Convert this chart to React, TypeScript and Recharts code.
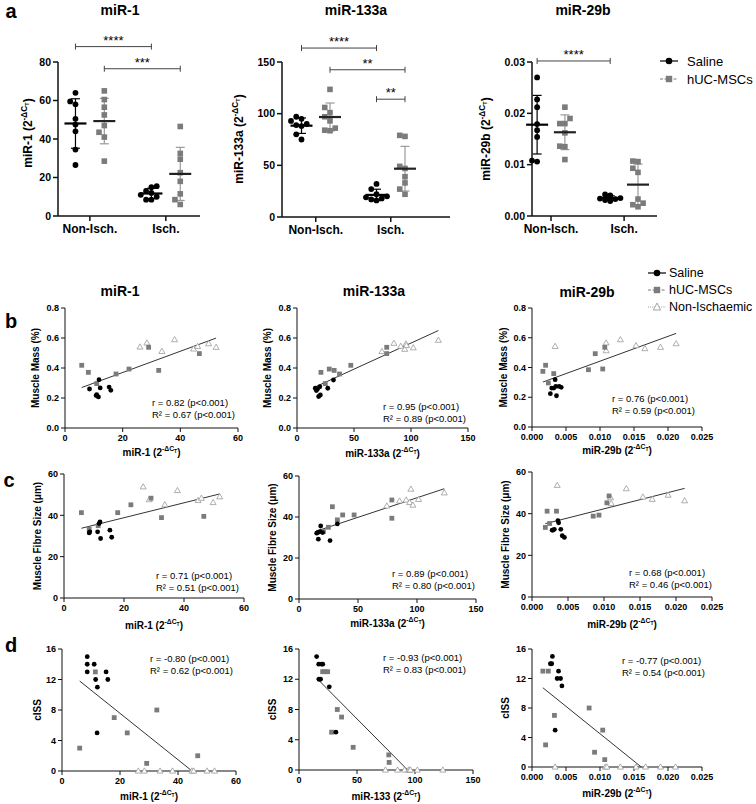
import React from "react";
import { ScatterChart, Scatter, XAxis, YAxis, ErrorBar, ReferenceLine } from "recharts";

const FONT = '"Liberation Sans", Arial, Helvetica, sans-serif';
const GREY = "#7b7b7b";
const TRI = "#9a9a9a";
const OFF = 0.19;

type Pt = [number, number];

// ---- a: expression, Non-Isch. / Isch. (8 per group)
const groupNames = ["Non-Isch.", "Isch."];

const mir1SalineNon = [64, 59.5, 58, 50.5, 47.5, 44, 34.5, 26.5];
const mir1SalineIsch = [15.5, 15, 13, 12, 11, 10, 8.5, 8.5];
const mir1MscNon = [65, 60.5, 56.5, 52.5, 47, 43.5, 41, 28.5];
const mir1MscIsch = [46.5, 32.5, 29.5, 22.5, 18, 11.5, 8.5, 6];

const mir133SalineNon = [97, 95, 93, 90, 89, 88, 80, 75];
const mir133SalineIsch = [32, 27, 22, 20, 19, 18, 17, 16];
const mir133MscNon = [123.5, 106, 101, 97, 93, 86, 84, 83.5];
const mir133MscIsch = [79, 78, 49, 47, 39, 33, 27, 22];

const mir29SalineNon = [0.027, 0.0227, 0.0212, 0.0179, 0.0167, 0.0154, 0.0106, 0.0108];
const mir29SalineIsch = [0.0042, 0.004, 0.0037, 0.0035, 0.0034, 0.0033, 0.0031, 0.0029];
const mir29MscNon = [0.0212, 0.019, 0.018, 0.018, 0.0162, 0.0135, 0.0136, 0.011];
const mir29MscIsch = [0.0106, 0.0107, 0.0085, 0.0093, 0.0033, 0.0018, 0.0025, 0.0022];

// ---- b: muscle mass vs expression [x, y]
const massMir1Saline: Pt[] = [[8.5, 0.26], [11, 0.222], [11.6, 0.207], [11.8, 0.322], [12.2, 0.267], [15.3, 0.273], [15.9, 0.251], [10.8, 0.216]];
const massMir1Msc: Pt[] = [[5.8, 0.418], [8.1, 0.371], [11, 0.296], [17.7, 0.36], [22.2, 0.393], [29, 0.538], [32.5, 0.384], [46.6, 0.496]];
const massMir1Non: Pt[] = [[26, 0.54], [28.4, 0.567], [33.6, 0.511], [38, 0.589], [44.6, 0.527], [46, 0.544], [49.8, 0.562], [52.4, 0.538]];

const massMir133Saline: Pt[] = [[16, 0.265], [17, 0.25], [18, 0.26], [19, 0.21], [20, 0.275], [20.5, 0.22], [27, 0.265], [32, 0.32]];
const massMir133Msc: Pt[] = [[21, 0.371], [24.8, 0.296], [28.3, 0.393], [32.6, 0.384], [37.3, 0.36], [47.2, 0.418], [78.7, 0.496], [78.7, 0.538]];
const massMir133Non: Pt[] = [[74.5, 0.51], [85, 0.565], [91, 0.545], [94.5, 0.525], [95.5, 0.56], [96, 0.55], [102, 0.535], [124, 0.585]];

const massMir29Saline: Pt[] = [[0.0029, 0.262], [0.0027, 0.224], [0.0034, 0.318], [0.0035, 0.273], [0.0036, 0.21], [0.004, 0.273], [0.0043, 0.267], [0.0032, 0.262]];
const massMir29Msc: Pt[] = [[0.0016, 0.374], [0.002, 0.415], [0.0024, 0.296], [0.0032, 0.359], [0.0083, 0.385], [0.0093, 0.493], [0.0104, 0.39], [0.0107, 0.536]];
const massMir29Non: Pt[] = [[0.0034, 0.542], [0.0109, 0.565], [0.0109, 0.513], [0.013, 0.587], [0.0153, 0.547], [0.0166, 0.527], [0.0189, 0.536], [0.0212, 0.56]];

// ---- c: fibre size vs expression
const fibreMir1Saline: Pt[] = [[8.6, 32], [8.4, 31.5], [11.2, 32], [11.7, 36], [12, 36.8], [12.2, 28.8], [15.3, 32.8], [15.9, 29.4]];
const fibreMir1Msc: Pt[] = [[5.8, 41.3], [8.4, 33.3], [11.4, 35], [17.9, 41.3], [22.3, 45.1], [29, 48.3], [32.5, 38.9], [46.6, 39.5]];
const fibreMir1Non: Pt[] = [[26.4, 53.8], [28.4, 47.6], [33.6, 45.1], [37.8, 52], [44.7, 47.2], [45.8, 48.3], [49.7, 46.2], [51.9, 49]];

const fibreMir133Saline: Pt[] = [[15, 32.1], [16.4, 29.2], [17.8, 32.9], [18.4, 35.6], [20, 32.4], [26.3, 28.5], [32.5, 36.6], [16, 32.5]];
const fibreMir133Msc: Pt[] = [[20.7, 32.9], [24.9, 35], [28.3, 45], [32.5, 38.6], [37, 41], [46.7, 41], [78.7, 48.3], [78.7, 39.4]];
const fibreMir133Non: Pt[] = [[74.4, 45.4], [85.2, 47.8], [90.8, 48.3], [93.7, 47.1], [94.8, 53.6], [96.5, 45.8], [101.3, 48.6], [123.1, 51.8]];

const fibreMir29Saline: Pt[] = [[0.0029, 32.1], [0.0031, 32.5], [0.0036, 36.6], [0.0037, 35.6], [0.004, 32.5], [0.0042, 29.4], [0.0045, 28.6], [0.0028, 32.1]];
const fibreMir29Msc: Pt[] = [[0.00185, 33.4], [0.0021, 41.2], [0.00245, 35.3], [0.0034, 41.2], [0.0085, 38.8], [0.0093, 39.3], [0.0104, 45.2], [0.0107, 48.5]];
const fibreMir29Non: Pt[] = [[0.0035, 53.6], [0.0109, 47.7], [0.011, 44.9], [0.0131, 52], [0.0154, 48], [0.0167, 46.9], [0.0189, 48.9], [0.0212, 46.2]];

// ---- d: cISS vs expression
const cissMir1Saline: Pt[] = [[8.7, 15], [8.7, 14], [8.7, 13], [11.1, 14], [11.6, 12], [12.2, 11], [15.2, 13], [15.8, 12], [12.1, 5]];
const cissMir1Msc: Pt[] = [[6.1, 3], [11.5, 13], [18, 7], [22.5, 5], [29.2, 1], [32.7, 8], [46.8, 2]];
const cissMir1Non: Pt[] = [[26.3, 0], [28.4, 0], [33.8, 0], [38.1, 0], [44.8, 0], [45.4, 0], [50, 0], [52.6, 0]];

const cissMir133Saline: Pt[] = [[15.2, 15], [17, 14], [19.5, 14], [20.5, 14], [17.2, 12], [18.6, 12], [26.1, 11], [31.8, 5]];
const cissMir133Msc: Pt[] = [[20.4, 13], [22.4, 13], [24.7, 13], [28.1, 5], [33, 8], [36.7, 7], [46.7, 3], [77.4, 2], [77.7, 1]];
const cissMir133Non: Pt[] = [[74.5, 0], [85, 0], [91, 0], [94.5, 0], [95.5, 0], [96, 0], [102, 0], [124, 0]];

const cissMir29Saline: Pt[] = [[0.003, 15], [0.0027, 14], [0.0029, 14], [0.0039, 13], [0.0037, 12], [0.0042, 12], [0.0044, 11], [0.0034, 5]];
const cissMir29Msc: Pt[] = [[0.0016, 13], [0.0024, 13], [0.002, 3], [0.0033, 7], [0.0084, 8], [0.0104, 5], [0.0092, 2], [0.0107, 1]];
const cissMir29Non: Pt[] = [[0.0034, 0], [0.0108, 0], [0.011, 0], [0.013, 0], [0.0153, 0], [0.0167, 0], [0.0189, 0], [0.0211, 0]];

const rValues = ["0.82", "0.95", "0.76", "0.71", "0.89", "0.68", "-0.80", "-0.93", "-0.77"];
const r2Values = ["0.67", "0.89", "0.59", "0.51", "0.80", "0.46", "0.62", "0.83", "0.54"];

// ---------------------------------------------------------------------------

const mean = (v: number[]) => v.reduce((s, a) => s + a, 0) / v.length;
const sd = (v: number[]) => {
  const m = mean(v);
  return Math.sqrt(v.reduce((s, a) => s + (a - m) ** 2, 0) / (v.length - 1));
};

// spread points of similar value sideways, like a GraphPad dot plot
function swarm(vals: number[], center: number, near: number, step: number) {
  const order = vals.map((_, i) => i).sort((a, b) => vals[a] - vals[b]);
  const placed: { v: number; o: number }[] = [];
  const out: { x: number; y: number }[] = [];
  for (const i of order) {
    const taken = placed.filter((p) => Math.abs(p.v - vals[i]) < near).map((p) => p.o);
    const o = [0, -1, 1, -2, 2, -0.5, 0.5, -1.5, 1.5].find((k) => !taken.includes(k)) ?? 0;
    placed.push({ v: vals[i], o });
    out[i] = { x: center + o * step, y: vals[i] };
  }
  return out;
}

function fitLine(sets: Pt[][], yMin: number) {
  const pts = sets.flat();
  const mx = mean(pts.map((p) => p[0]));
  const my = mean(pts.map((p) => p[1]));
  let sxy = 0;
  let sxx = 0;
  pts.forEach(([x, y]) => {
    sxy += (x - mx) * (y - my);
    sxx += (x - mx) ** 2;
  });
  const m = sxy / sxx;
  const c = my - m * mx;
  const x0 = Math.min(...pts.map((p) => p[0]));
  let x1 = Math.max(...pts.map((p) => p[0]));
  if (m * x1 + c < yMin) x1 = (yMin - c) / m;
  return [{ x: x0, y: m * x0 + c }, { x: x1, y: m * x1 + c }];
}

const toXY = (p: Pt[]) => p.map(([x, y]) => ({ x, y }));

const circle = (r: number, fill: string) => (p: any) => <circle cx={p.cx} cy={p.cy} r={r} fill={fill} />;
const square = (s: number, fill: string) => (p: any) => (
  <rect x={p.cx - s / 2} y={p.cy - s / 2} width={s} height={s} fill={fill} />
);
const triangle = (s: number) => (p: any) => {
  const h = s * 0.87;
  return (
    <path
      d={`M${p.cx},${p.cy - h * 0.6}L${p.cx + s / 2},${p.cy + h * 0.4}L${p.cx - s / 2},${p.cy + h * 0.4}Z`}
      fill="#fff"
      stroke={TRI}
      strokeWidth={0.8}
    />
  );
};
const meanBar = (color: string) => (p: any) => (
  <line x1={p.cx - 11} x2={p.cx + 11} y1={p.cy} y2={p.cy} stroke={color} strokeWidth={2.2} />
);
const noDot = () => <g />;

const bracketShape = (p: any) => (
  <g stroke="#444" strokeWidth={1}>
    <line x1={p.x1} x2={p.x2} y1={p.y1} y2={p.y2} />
    <line x1={p.x1} x2={p.x1} y1={p.y1 - 3} y2={p.y1 + 3} />
    <line x1={p.x2} x2={p.x2} y1={p.y2 - 3} y2={p.y2 + 3} />
  </g>
);

// axis title in svg coords; "mir" adds the (2^-ΔCT) part
function AxisTitle({ tx, ty, text, size, rotate, mir }: any) {
  const x = rotate ? tx + size * 0.35 : tx;
  const y = rotate ? ty : ty + size * 0.35;
  return (
    <text
      x={x}
      y={y}
      textAnchor="middle"
      fontSize={size}
      fontWeight={700}
      fill="#000"
      transform={rotate ? `rotate(-90 ${x} ${y})` : undefined}
    >
      {mir ? (
        <>
          {text} (2
          <tspan dy={-size * 0.42} fontSize={size * 0.68}>-ΔC</tspan>
          <tspan dy={size * 0.17} fontSize={size * 0.5}>T</tspan>
          <tspan dy={size * 0.25}>)</tspan>
        </>
      ) : (
        text
      )}
    </text>
  );
}

function Plot({ rect, top = 8, xDomain, xTicks, xFmt, yDomain, yTicks, yFmt, xTick, yTick, tickSize = 4, axisW = 1, xTitle, yTitle, children }: any) {
  const [l, t, r, b] = rect;
  const W = 70;
  const right = 14;
  const H = 45;
  const ox = l - W;
  const oy = t - top;
  const line = { stroke: "#111", strokeWidth: axisW };
  return (
    <div style={{ position: "absolute", left: ox, top: oy }}>
      <ScatterChart width={W + r - l + right} height={top + b - t + H} margin={{ top, right, bottom: 0, left: 0 }}>
        <XAxis
          type="number"
          dataKey="x"
          domain={xDomain}
          ticks={xTicks}
          tickFormatter={xFmt}
          interval={0}
          height={H}
          tick={{ fontSize: xTick, fontWeight: 700, fill: "#000" }}
          tickSize={tickSize}
          tickMargin={3}
          axisLine={line}
          tickLine={line}
          label={xTitle ? () => <AxisTitle {...xTitle} tx={xTitle.x - ox} ty={xTitle.y - oy} /> : undefined}
        />
        <YAxis
          type="number"
          dataKey="y"
          domain={yDomain}
          ticks={yTicks}
          tickFormatter={yFmt}
          interval={0}
          width={W}
          tick={{ fontSize: yTick, fontWeight: 700, fill: "#000" }}
          tickSize={tickSize}
          tickMargin={2}
          axisLine={line}
          tickLine={line}
          label={() => <AxisTitle {...yTitle} tx={yTitle.x - ox} ty={yTitle.y - oy} rotate />}
        />
        {children}
      </ScatterChart>
    </div>
  );
}

const f0 = (v: number) => String(v);
const f1 = (v: number) => v.toFixed(1);
const f2 = (v: number) => v.toFixed(2);
const f3 = (v: number) => v.toFixed(3);
const fCat = (v: number) => groupNames[Math.round(v) - 1] ?? "";

const exprPanels = [
  {
    name: "miR-1", rect: [58, 62, 200, 216], xDomain: [0.58, 2.45], yDomain: [0, 80], yTicks: [0, 20, 40, 60, 80], yFmt: f0,
    sal: [mir1SalineNon, mir1SalineIsch], msc: [mir1MscNon, mir1MscIsch], yLab: [28, 133],
    brackets: [[1 - OFF, 2 - OFF, 88, "****"], [1 + OFF, 2 + OFF, 76.5, "***"]],
  },
  {
    name: "miR-133a", rect: [282, 62, 450, 217], xDomain: [0.55, 2.79], yDomain: [0, 150], yTicks: [0, 50, 100, 150], yFmt: f0,
    sal: [mir133SalineNon, mir133SalineIsch], msc: [mir133MscNon, mir133MscIsch], yLab: [239, 139],
    brackets: [[1 - OFF, 2 - OFF, 163.5, "****"], [1 + OFF, 2 + OFF, 142.5, "**"], [2 - OFF, 2 + OFF, 114, "**"]],
  },
  {
    name: "miR-29b", rect: [532, 62, 657, 216], xDomain: [0.74, 2.45], yDomain: [0, 0.03], yTicks: [0, 0.01, 0.02, 0.03], yFmt: f2,
    sal: [mir29SalineNon, mir29SalineIsch], msc: [mir29MscNon, mir29MscIsch], yLab: [486, 139],
    brackets: [[1 - OFF, 2 - OFF, 0.0302, "****"]],
  },
];

const corrPanels = [
  { rect: [65, 308, 238, 428], xd: [0, 60], xt: [0, 20, 40, 60], xf: f0, yd: [0, 0.8], yt: [0, 0.2, 0.4, 0.6, 0.8], yf: f1, sets: [massMir1Saline, massMir1Msc, massMir1Non], mir: "miR-1", yName: "Muscle Mass (%)", yLx: 35, xLy: 452, sx: 152, sy: 403 },
  { rect: [297, 308, 468, 428], xd: [0, 150], xt: [0, 50, 100, 150], xf: f0, yd: [0, 0.8], yt: [0, 0.2, 0.4, 0.6, 0.8], yf: f1, sets: [massMir133Saline, massMir133Msc, massMir133Non], mir: "miR-133a", yName: "Muscle Mass (%)", yLx: 267, xLy: 453, sx: 383, sy: 407 },
  { rect: [532, 308, 702, 427], xd: [0, 0.025], xt: [0, 0.005, 0.01, 0.015, 0.02, 0.025], xf: f3, yd: [0, 0.8], yt: [0, 0.2, 0.4, 0.6, 0.8], yf: f1, sets: [massMir29Saline, massMir29Msc, massMir29Non], mir: "miR-29b", yName: "Muscle Mass (%)", yLx: 503, xLy: 450, sx: 612, sy: 399 },
  { rect: [64, 474, 244, 598], xd: [0, 60], xt: [0, 20, 40, 60], xf: f0, yd: [0, 60], yt: [0, 20, 40, 60], yf: f0, sets: [fibreMir1Saline, fibreMir1Msc, fibreMir1Non], mir: "miR-1", yName: "Muscle Fibre Size (μm)", yLx: 37, xLy: 625, sx: 156, sy: 576 },
  { rect: [299, 476, 476, 599], xd: [0, 150], xt: [0, 50, 100, 150], xf: f0, yd: [0, 60], yt: [0, 20, 40, 60], yf: f0, sets: [fibreMir133Saline, fibreMir133Msc, fibreMir133Non], mir: "miR-133a", yName: "Muscle Fibre Size (μm)", yLx: 272, xLy: 623, sx: 392, sy: 574 },
  { rect: [532, 472, 712, 597], xd: [0, 0.025], xt: [0, 0.005, 0.01, 0.015, 0.02, 0.025], xf: f3, yd: [0, 60], yt: [0, 20, 40, 60], yf: f0, sets: [fibreMir29Saline, fibreMir29Msc, fibreMir29Non], mir: "miR-29b", yName: "Muscle Fibre Size (μm)", yLx: 505, xLy: 624, sx: 629, sy: 573 },
  { rect: [62, 649, 236, 771], xd: [0, 60], xt: [0, 20, 40, 60], xf: f0, yd: [0, 16], yt: [0, 4, 8, 12, 16], yf: f0, sets: [cissMir1Saline, cissMir1Msc, cissMir1Non], mir: "miR-1", yName: "cISS", yLx: 37, xLy: 796, sx: 150, sy: 659 },
  { rect: [299, 649, 473, 770], xd: [0, 150], xt: [0, 50, 100, 150], xf: f0, yd: [0, 16], yt: [0, 4, 8, 12, 16], yf: f0, sets: [cissMir133Saline, cissMir133Msc, cissMir133Non], mir: "miR-133", yName: "cISS", yLx: 272, xLy: 796, sx: 383, sy: 658 },
  { rect: [532, 649, 702, 767], xd: [0, 0.025], xt: [0, 0.005, 0.01, 0.015, 0.02, 0.025], xf: f3, yd: [0, 16], yt: [0, 4, 8, 12, 16], yf: f0, sets: [cissMir29Saline, cissMir29Msc, cissMir29Non], mir: "miR-29b", yName: "cISS", yLx: 505, xLy: 793, sx: 622, sy: 661 },
];

function Txt({ x, y, size = 11, bold = false, start = false, children }: any) {
  return (
    <div
      style={{
        position: "absolute",
        left: x,
        top: y,
        transform: `translate(${start ? "0" : "-50%"}, -50%)`,
        fontSize: size,
        fontWeight: bold ? 700 : 400,
        lineHeight: 1,
        whiteSpace: "nowrap",
        color: "#000",
      }}
    >
      {children}
    </div>
  );
}

function LegendRow({ x, y, kind, label, gap, size }: any) {
  return (
    <>
      <svg style={{ position: "absolute", left: x - 10, top: y - 7 }} width={20} height={14}>
        {kind === "saline" && (
          <>
            <line x1={1} x2={19} y1={7} y2={7} stroke="#000" strokeWidth={1.2} />
            <circle cx={10} cy={7} r={3.3} fill="#000" />
          </>
        )}
        {kind === "msc" && (
          <>
            <line x1={1} x2={19} y1={7} y2={7} stroke={GREY} strokeWidth={1.1} strokeDasharray="3 1.5" />
            <rect x={6.8} y={3.8} width={6.4} height={6.4} fill={GREY} />
          </>
        )}
        {kind === "non" && (
          <>
            <line x1={1} x2={19} y1={7} y2={7} stroke={TRI} strokeWidth={1} strokeDasharray="1 1.2" />
            <path d="M10,3 L13.6,10 L6.4,10 Z" fill="#fff" stroke={TRI} strokeWidth={0.9} />
          </>
        )}
      </svg>
      <Txt x={x + gap} y={y} size={size} start>
        {label}
      </Txt>
    </>
  );
}

function ExprPanel({ s }: any) {
  const near = s.yDomain[1] * 0.035;
  const salPts = [...swarm(s.sal[0], 1 - OFF, near, 0.07), ...swarm(s.sal[1], 2 - OFF, near, 0.07)];
  const mscPts = [...swarm(s.msc[0], 1 + OFF, near, 0.07), ...swarm(s.msc[1], 2 + OFF, near, 0.07)];
  const salSum = s.sal.map((v: number[], i: number) => ({ x: i + 1 - OFF, y: mean(v), e: sd(v) }));
  const mscSum = s.msc.map((v: number[], i: number) => ({ x: i + 1 + OFF, y: mean(v), e: sd(v) }));
  return (
    <Plot
      rect={s.rect}
      top={40}
      xDomain={s.xDomain}
      xTicks={[1, 2]}
      xFmt={fCat}
      yDomain={s.yDomain}
      yTicks={s.yTicks}
      yFmt={s.yFmt}
      xTick={12}
      yTick={10.5}
      tickSize={5}
      axisW={1.5}
      yTitle={{ x: s.yLab[0], y: s.yLab[1], text: s.name, size: 12, mir: true }}
    >
      <Scatter data={salPts} shape={circle(2.9, "#000")} isAnimationActive={false} />
      <Scatter data={mscPts} shape={square(5.6, GREY)} isAnimationActive={false} />
      <Scatter data={salSum} shape={meanBar("#000")} isAnimationActive={false}>
        <ErrorBar dataKey="e" direction="y" width={4.5} stroke="#000" strokeWidth={1.2} isAnimationActive={false} />
      </Scatter>
      <Scatter data={mscSum} shape={meanBar("#222")} isAnimationActive={false}>
        <ErrorBar dataKey="e" direction="y" width={4.5} stroke="#9a9a9a" strokeWidth={1.2} isAnimationActive={false} />
      </Scatter>
      {s.brackets.map((bk: any[], i: number) => (
        <ReferenceLine
          key={i}
          segment={[{ x: bk[0], y: bk[2] }, { x: bk[1], y: bk[2] }]}
          ifOverflow="visible"
          shape={bracketShape}
          label={{ value: bk[3], position: "top", offset: 2, fontSize: 13, fill: "#000" }}
        />
      ))}
    </Plot>
  );
}

function CorrPanel({ s, i }: any) {
  const [l, t, r, b] = s.rect;
  const fit = fitLine(s.sets, s.yd[0]);
  return (
    <>
      <Plot
        rect={s.rect}
        xDomain={s.xd}
        xTicks={s.xt}
        xFmt={s.xf}
        yDomain={s.yd}
        yTicks={s.yt}
        yFmt={s.yf}
        xTick={9}
        yTick={9}
        xTitle={{ x: (l + r) / 2, y: s.xLy, text: s.mir, size: 10, mir: true }}
        yTitle={{ x: s.yLx, y: (t + b) / 2, text: s.yName, size: 10 }}
      >
        <Scatter data={fit} shape={noDot} line={{ stroke: "#333", strokeWidth: 1 }} isAnimationActive={false} />
        <Scatter data={toXY(s.sets[2])} shape={triangle(6)} isAnimationActive={false} />
        <Scatter data={toXY(s.sets[1])} shape={square(4.8, GREY)} isAnimationActive={false} />
        <Scatter data={toXY(s.sets[0])} shape={circle(2.4, "#000")} isAnimationActive={false} />
      </Plot>
      <Txt x={s.sx} y={s.sy} size={9.5} start>
        r = {rValues[i]} (p&lt;0.001)
      </Txt>
      <Txt x={s.sx} y={s.sy + 12} size={9.5} start>
        R² = {r2Values[i]} (p&lt;0.001)
      </Txt>
    </>
  );
}

export default function App() {
  return (
    <div
      style={{
        position: "absolute",
        left: 0,
        top: 0,
        width: 756,
        height: 804,
        background: "#fff",
        fontFamily: FONT,
        overflow: "hidden",
      }}
    >
      <Txt x={11} y={11} size={20} bold>a</Txt>
      <Txt x={11} y={321} size={20} bold>b</Txt>
      <Txt x={9} y={480} size={20} bold>c</Txt>
      <Txt x={11} y={645} size={20} bold>d</Txt>

      <Txt x={120} y={10} size={14} bold>miR-1</Txt>
      <Txt x={356} y={10} size={14} bold>miR-133a</Txt>
      <Txt x={583} y={10} size={14} bold>miR-29b</Txt>

      <Txt x={120} y={291} size={14} bold>miR-1</Txt>
      <Txt x={374} y={291} size={14} bold>miR-133a</Txt>
      <Txt x={587} y={292} size={14} bold>miR-29b</Txt>

      {exprPanels.map((s) => (
        <ExprPanel key={s.name} s={s} />
      ))}
      {corrPanels.map((s, i) => (
        <CorrPanel key={i} s={s} i={i} />
      ))}

      <LegendRow x={669} y={61} kind="saline" label="Saline" gap={18} size={13} />
      <LegendRow x={669} y={79} kind="msc" label="hUC-MSCs" gap={18} size={13} />

      <LegendRow x={657} y={273} kind="saline" label="Saline" gap={12} size={12.5} />
      <LegendRow x={657} y={290} kind="msc" label="hUC-MSCs" gap={12} size={12.5} />
      <LegendRow x={657} y={307} kind="non" label="Non-Ischaemic" gap={12} size={12.5} />
    </div>
  );
}
